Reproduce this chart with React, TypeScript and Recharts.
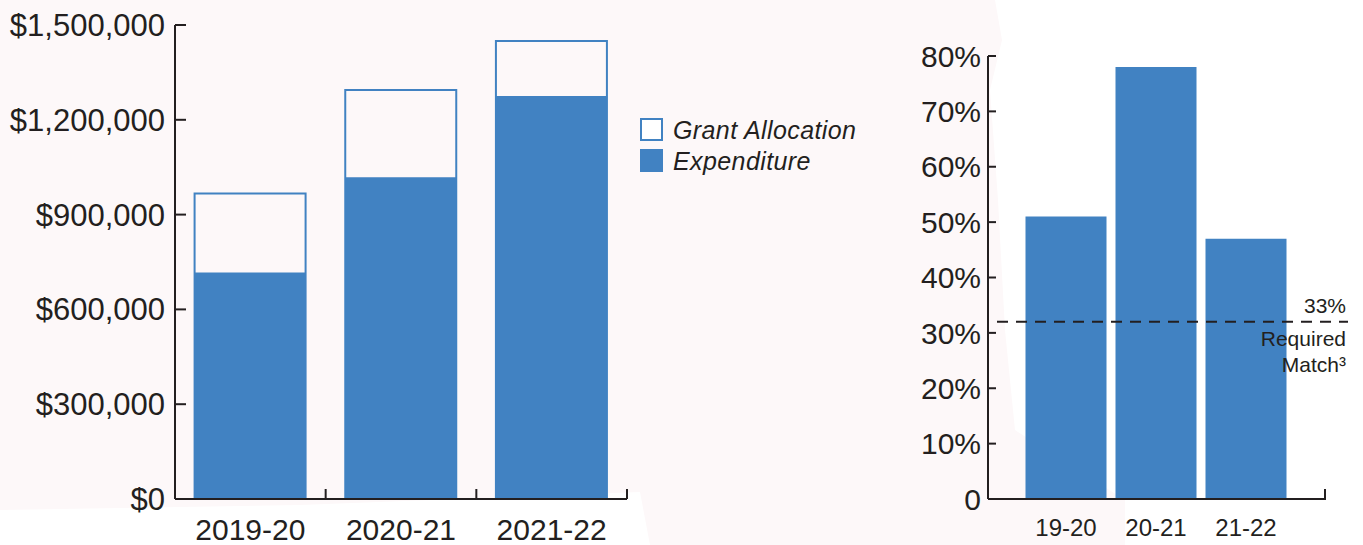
import React from 'react';
import { BarChart, Bar, XAxis, YAxis, ReferenceLine } from 'recharts';

// left panel: grant vs spend by year
const years = ['2019-20', '2020-21', '2021-22'];
const grantAllocation = [967000, 1294000, 1449000];
const expenditure = [717000, 1018000, 1275000];
const dollarTicks = [0, 300000, 600000, 900000, 1200000, 1500000];
const legendItems = [
  { name: 'Grant Allocation', filled: false },
  { name: 'Expenditure', filled: true },
];

// right panel: match rate
const shortYears = ['19-20', '20-21', '21-22'];
const matchRate = [51, 78, 47];
const percentTicks = [0, 10, 20, 30, 40, 50, 60, 70, 80];
const requiredMatch = 32;
const requiredMatchText = ['33%', 'Required', 'Match³'];

const BLUE = '#4182c2';
const INK = '#231f20';
const PINK = '#fdf8f9';
const FONT = '"Liberation Sans", Arial, Helvetica, sans-serif';

const grantData = years.map((year, i) => ({
  year,
  grant: grantAllocation[i],
  expenditure: expenditure[i],
}));

const matchData = shortYears.map((year, i) => ({ year, match: matchRate[i] }));

const axisStroke = { stroke: INK, strokeWidth: 2 };

// short upward tick at the bottom of a vertical reference line
function BoundaryTick(props: any) {
  const { x1, y1, y2 } = props;
  const bottom = Math.max(y1, y2);
  return <line x1={x1} x2={x1} y1={bottom} y2={bottom - 10} stroke={INK} strokeWidth={2} />;
}

// short upward tick at the right end of the x axis
function EndTick(props: any) {
  const { x2, y1 } = props;
  return (
    <g>
      <line x1={props.x1} x2={x2} y1={y1} y2={y1} stroke={INK} strokeWidth={2} />
      <line x1={x2} x2={x2} y1={y1 + 1} y2={y1 - 10} stroke={INK} strokeWidth={2} />
    </g>
  );
}

function MatchLabel(props: any) {
  const { viewBox } = props;
  if (!viewBox) return null;
  const right = viewBox.x + viewBox.width + 21;
  const y = viewBox.y;
  return (
    <g fontFamily={FONT} fontSize={21} fill={INK} textAnchor="end">
      <text x={right} y={y - 9}>{requiredMatchText[0]}</text>
      <text x={right} y={y + 24}>{requiredMatchText[1]}</text>
      <text x={right} y={y + 50}>{requiredMatchText[2]}</text>
    </g>
  );
}

function MatchLine(props: any) {
  const { x1, x2, y1 } = props;
  return (
    <line
      x1={x1 + 9}
      x2={x2 + 23}
      y1={y1}
      y2={y1}
      stroke={INK}
      strokeWidth={2}
      strokeDasharray="11 8"
    />
  );
}

export default function App() {
  return (
    <div
      style={{
        position: 'absolute',
        left: 0,
        top: 0,
        width: 1363,
        height: 545,
        background: '#ffffff',
        fontFamily: FONT,
        overflow: 'hidden',
      }}
    >
      <div
        style={{
          position: 'absolute',
          inset: 0,
          background: PINK,
          clipPath:
            'polygon(0 0, 995px 0, 1002px 40px, 990px 90px, 998px 200px, 1005px 330px, 1015px 430px, 1125px 500px, 1125px 545px, 650px 545px, 640px 492px, 300px 505px, 0 510px)',
        }}
      />

      <div style={{ position: 'absolute', left: 0, top: 0 }}>
        <BarChart
          width={660}
          height={545}
          data={grantData}
          margin={{ top: 25, right: 33, bottom: 6, left: 0 }}
          barCategoryGap="13%"
        >
          <XAxis
            dataKey="year"
            interval={0}
            height={40}
            tickLine={false}
            tickSize={0}
            tickMargin={20}
            axisLine={axisStroke}
            tick={{ fill: INK, fontSize: 30 }}
          />
          <XAxis xAxisId="exp" dataKey="year" hide />
          <YAxis
            width={175}
            domain={[0, 1500000]}
            ticks={dollarTicks}
            interval={0}
            tickFormatter={(v: number) => `$${v.toLocaleString('en-US')}`}
            tickSize={-11}
            tickMargin={21}
            axisLine={axisStroke}
            tickLine={axisStroke}
            tick={{ fill: INK, fontSize: 31 }}
          />
          <Bar
            dataKey="grant"
            name="Grant Allocation"
            fill="none"
            stroke={BLUE}
            strokeWidth={2}
            isAnimationActive={false}
          />
          <Bar
            dataKey="expenditure"
            xAxisId="exp"
            name="Expenditure"
            fill={BLUE}
            isAnimationActive={false}
          />
          {years.map((year) => (
            <ReferenceLine
              key={year}
              x={year}
              position="end"
              ifOverflow="visible"
              shape={(p: any) => <BoundaryTick {...p} />}
            />
          ))}
        </BarChart>
      </div>

      <div
        style={{
          position: 'absolute',
          left: 640,
          top: 114,
          fontFamily: FONT,
          fontStyle: 'italic',
          fontSize: 25,
          letterSpacing: 0.4,
          color: INK,
        }}
      >
        {legendItems.map((item) => (
          <div key={item.name} style={{ display: 'flex', alignItems: 'center', height: 31 }}>
            <span
              style={{
                display: 'inline-block',
                width: 23,
                height: 23,
                boxSizing: 'border-box',
                border: `2px solid ${BLUE}`,
                background: item.filled ? BLUE : '#ffffff',
                marginRight: 10,
              }}
            />
            <span style={{ position: 'relative', top: 1 }}>{item.name}</span>
          </div>
        ))}
      </div>

      <div style={{ position: 'absolute', left: 900, top: 0 }}>
        <BarChart
          width={463}
          height={545}
          data={matchData}
          margin={{ top: 56, right: 38, bottom: 6, left: 0 }}
          barCategoryGap="5%"
        >
          <XAxis
            dataKey="year"
            interval={0}
            height={40}
            padding={{ left: 33, right: 34 }}
            tickLine={false}
            tickSize={0}
            tickMargin={20}
            axisLine={axisStroke}
            tick={{ fill: INK, fontSize: 24 }}
          />
          <YAxis
            width={88}
            domain={[0, 80]}
            ticks={percentTicks}
            interval={0}
            tickFormatter={(v: number) => (v === 0 ? '0' : `${v}%`)}
            tickSize={-8}
            tickMargin={15}
            axisLine={axisStroke}
            tickLine={axisStroke}
            tick={{ fill: INK, fontSize: 30 }}
          />
          <Bar dataKey="match" fill={BLUE} isAnimationActive={false} />
          <ReferenceLine y={0} ifOverflow="visible" shape={(p: any) => <EndTick {...p} />} />
          <ReferenceLine
            y={requiredMatch}
            shape={(p: any) => <MatchLine {...p} />}
            label={(p: any) => <MatchLabel {...p} />}
          />
        </BarChart>
      </div>
    </div>
  );
}
